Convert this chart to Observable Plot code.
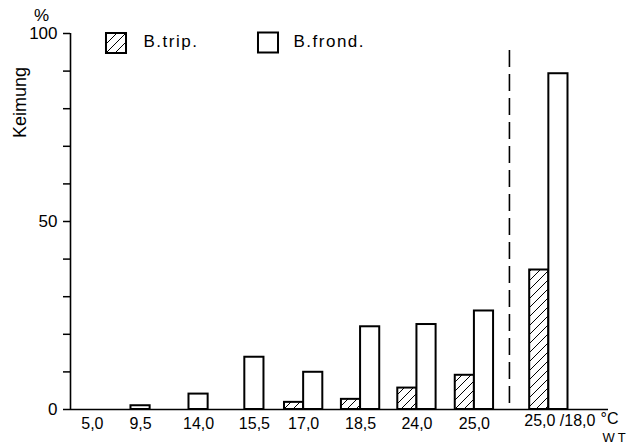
<!DOCTYPE html>
<html><head><meta charset="utf-8">
<script src="https://cdn.jsdelivr.net/npm/d3@7"></script>
<script src="https://cdn.jsdelivr.net/npm/@observablehq/plot@0.6"></script>
<style>body{margin:0;background:#fff}</style>
</head><body><div id="chart"></div>
<script>
// --- data ---
const categories = ["5,0","9,5","14,0","15,5","17,0","18,5","24,0","25,0","25,0 /18,0"];
const positions  = [0, 0.88, 1.94, 2.96, 3.86, 4.9, 5.93, 6.98, 8.34];
const bTrip      = [0, 0, 0, 0, 1.9, 2.7, 5.7, 9.1, 37.1];
const bFrond     = [0, 1, 4.1, 13.9, 9.9, 22.0, 22.6, 26.2, 89.3];
const series     = ["B.trip.", "B.frond."];
const yTicks     = [0,10,20,30,40,50,60,70,80,90,100];
const yLabelled  = [0,50,100];
const dividerAt  = [7.62];
const xDomain    = [-0.4, 9.43];

// --- build tables ---
const barW = 0.35;
const bars = [];
categories.forEach((c, i) => {
  const p = positions[i];
  if (bTrip[i] > 0) {
    bars.push({cat: c, s: series[0], x1: p - barW, x2: p, v: bTrip[i]});
    if (bFrond[i] > 0) bars.push({cat: c, s: series[1], x1: p, x2: p + barW, v: bFrond[i]});
  } else if (bFrond[i] > 0) {
    bars.push({cat: c, s: series[1], x1: p - barW/2, x2: p + barW/2, v: bFrond[i]});
  }
});
const fillOf = s => s === series[0] ? "url(#hatch)" : "white";
const ticksData = categories.map((c, i) => ({c, x: positions[i]}));

const font = "Liberation Sans, Arial, sans-serif";

const plot = Plot.plot({
  width: 633, height: 444,
  marginLeft: 70, marginRight: 25, marginTop: 33, marginBottom: 35,
  style: {fontFamily: font, fontSize: "16px", color: "black", background: "white"},
  x: {type: "linear", domain: xDomain, axis: null},
  y: {domain: [0, 100], axis: null},
  marks: [
    // dashed divider
    Plot.ruleX(dividerAt, {y1: 0, y2: 100, insetTop: -6, insetBottom: -14, stroke: "black", strokeWidth: 1.6, strokeDasharray: "17,7"}),
    // bars
    Plot.rectY(bars, {x1: "x1", x2: "x2", y1: 0, y2: "v", fill: d => fillOf(d.s), stroke: "black", strokeWidth: 2}),
    // y axis line + baseline
    Plot.ruleX([xDomain[0]], {y1: 0, y2: 100, stroke: "black", strokeWidth: 1.6}),
    Plot.ruleY([0], {stroke: "black", strokeWidth: 1.6}),
    // y ticks
    Plot.axisY({ticks: yTicks, tickSize: 7, tickPadding: 6, strokeWidth: 1.5, fontSize: 17,
      tickFormat: d => yLabelled.includes(d) ? String(d) : "", label: null}),
    // x labels
    Plot.text(ticksData.slice(0, -1), {x: "x", y: 0, text: "c", dy: 14, fontSize: 16, lineAnchor: "middle"}),
    Plot.text(ticksData.slice(-1), {x: "x", y: 0, text: "c", dy: 11, dx: 11, fontSize: 16, lineAnchor: "middle"}),
    // unit labels
    Plot.text(["°C"], {frameAnchor: "bottom-right", dx: -8, dy: 9, textAnchor: "start", fontSize: 16, lineAnchor: "middle"}),
    Plot.text(["WT"], {frameAnchor: "bottom-right", dx: -6, dy: 28, textAnchor: "start", fontSize: 13, lineAnchor: "middle"}),
    // y title
    Plot.text(["%"], {frameAnchor: "top-left", dx: -29, dy: -18, textAnchor: "middle", fontSize: 17, lineAnchor: "middle"}),
    Plot.text(["Keimung"], {frameAnchor: "top-left", dx: -50, dy: 69, textAnchor: "middle", rotate: -90, fontSize: 18, lineAnchor: "middle"}),
    // legend
    Plot.dot([series[0]], {frameAnchor: "top-left", dx: 45.5, dy: 9.5, symbol: "square", r: 11.3, fill: fillOf(series[0]), stroke: "black", strokeWidth: 2}),
    Plot.text([series[0]], {frameAnchor: "top-left", dx: 73, dy: 8, textAnchor: "start", lineAnchor: "middle", fontSize: 17}),
    Plot.dot([series[1]], {frameAnchor: "top-left", dx: 197.5, dy: 9, symbol: "square", r: 11.3, fill: fillOf(series[1]), stroke: "black", strokeWidth: 2}),
    Plot.text([series[1]], {frameAnchor: "top-left", dx: 223, dy: 8, textAnchor: "start", lineAnchor: "middle", fontSize: 17})
  ]
});

const svg = d3.select(plot);
const defs = svg.insert("defs", ":first-child");
const pat = defs.append("pattern").attr("id", "hatch").attr("patternUnits", "userSpaceOnUse")
  .attr("width", 9).attr("height", 9);
pat.append("rect").attr("width", 9).attr("height", 9).attr("fill", "white");
pat.append("path").attr("d", "M-1,10 L10,-1 M-2,2 L2,-2 M7,11 L11,7").attr("stroke", "black").attr("stroke-width", 1);
// letter spacing for legend entries and WT
svg.selectAll("text").filter(function() { return series.includes(this.textContent); }).style("letter-spacing", "1.5px");
svg.selectAll("text").filter(function() { return this.textContent === "WT"; }).style("letter-spacing", "3px");

document.getElementById("chart").appendChild(plot);
</script>
</body></html>
